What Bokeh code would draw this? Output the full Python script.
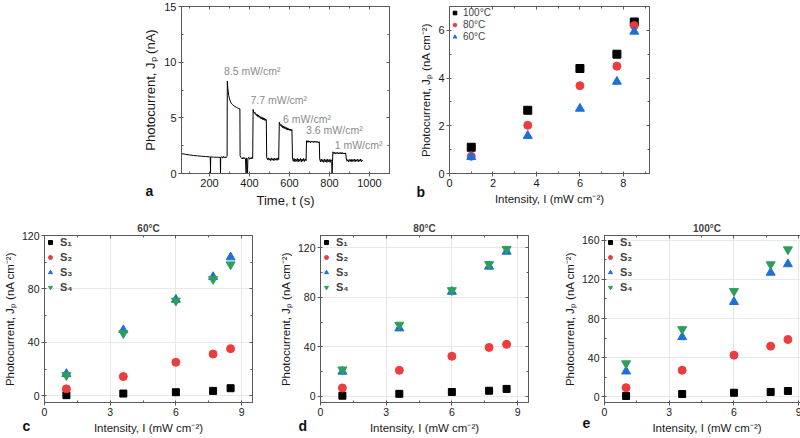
from bokeh.plotting import figure
from bokeh.layouts import row, column, Spacer
from bokeh.models import LinearAxis, SingleIntervalTicker, Range1d, Title
from bokeh.embed import file_html
from bokeh.resources import INLINE
from bokeh.core.properties import value

FONT = "Liberation Sans"
GRAY = "#5a5a5a"
RED = "#EE3B3B"
BLUE = "#1E6FD9"
GREEN = "#2CA05A"

# ---------------- panel a : photocurrent transient ----------------
time_s = [60, 80, 100, 120, 140, 160, 180, 200, 204, 205, 206, 220, 240, 254, 255, 256,
          262, 266, 270, 274, 278, 282, 286, 288,
          289, 292, 296, 300, 306, 314, 324, 334, 344, 352,
          353, 356, 360, 364, 368, 372, 376, 380, 383, 385, 390, 392, 396, 400, 404, 408, 412, 416,
          418, 421, 424, 427, 430, 433, 436, 439, 442, 445, 448, 451, 454, 457, 460, 463, 466, 469,
          472, 475, 478, 481, 484,
          486, 490, 494, 498, 502, 506, 510, 514, 518, 522, 526, 530, 534, 538, 542, 546,
          549, 552, 555, 558, 561, 564, 567, 570, 573, 576, 579, 582, 585, 588, 591, 594, 597, 600,
          603, 606, 609, 612,
          615, 619, 623, 627, 631, 635, 639, 643, 647, 651, 655, 659, 663, 667, 671, 675, 679, 683,
          685, 689, 693, 697, 701, 705, 709, 713, 717, 721, 725, 729, 733, 737, 741, 745, 749,
          751, 755, 759, 763, 767, 771, 775, 779, 783, 787, 791, 795, 799, 803, 807, 811, 813, 815,
          817, 821, 825, 829, 833, 837, 841, 845, 849, 853, 857, 861, 865, 869, 873, 877, 881,
          884, 888, 892, 896, 900, 904, 908, 912, 916, 920, 924, 928, 932, 936, 940, 944, 948, 952,
          956, 960, 964, 967]
current_na = [1.78, 1.72, 1.67, 1.62, 1.58, 1.55, 1.52, 1.50, 1.49, 0.0, 1.49, 1.47, 1.46, 1.45, 0.0, 1.45,
              1.50, 1.38, 1.55, 1.42, 1.50, 1.40, 1.52, 1.55,
              8.30, 7.60, 7.00, 6.70, 6.40, 6.20, 6.05, 5.95, 5.85, 5.80,
              1.60, 1.45, 1.40, 1.30, 1.45, 1.32, 1.42, 1.30, 0.0, 1.40, 0.0, 1.35, 1.45, 1.28, 1.42, 1.30, 1.45, 1.35,
              5.75, 5.50, 5.40, 5.50, 5.30, 5.35, 5.20, 5.30, 5.10, 5.25, 5.05, 5.15, 4.95, 5.10, 4.90, 5.05, 4.85, 5.00,
              4.80, 4.95, 4.75, 4.90, 4.80,
              1.45, 1.25, 1.40, 1.20, 1.35, 1.15, 1.40, 1.20, 1.35, 1.15, 1.38, 1.20, 1.35, 1.18, 1.40, 1.25,
              4.60, 4.45, 4.30, 4.40, 4.20, 4.30, 4.10, 4.25, 4.05, 4.20, 4.00, 4.15, 3.95, 4.10, 3.90, 4.05, 3.90, 4.00,
              3.85, 4.00, 3.85, 3.95,
              1.40, 1.10, 1.35, 1.05, 1.30, 1.10, 1.35, 1.05, 1.30, 1.10, 1.35, 1.05, 1.30, 1.10, 1.35, 1.08, 1.30, 1.15,
              2.95, 2.80, 2.95, 2.80, 2.90, 2.78, 2.92, 2.80, 2.90, 2.78, 2.92, 2.80, 2.90, 2.78, 2.88, 2.75, 2.85,
              1.30, 1.05, 1.30, 1.05, 1.25, 1.00, 1.30, 1.05, 1.25, 1.00, 1.28, 1.05, 1.25, 1.00, 1.25, 1.10, 0.0, 1.10,
              1.95, 1.80, 1.90, 1.75, 1.90, 1.78, 1.90, 1.75, 1.88, 1.76, 1.90, 1.75, 1.88, 1.76, 1.85, 1.75, 1.85,
              1.30, 1.10, 1.25, 1.05, 1.25, 1.08, 1.28, 1.05, 1.25, 1.10, 1.30, 1.05, 1.25, 1.10, 1.28, 1.05, 1.25, 1.10,
              1.30, 1.05, 1.20, 1.15]
ann_text = ["8.5 mW/cm²", "7.7 mW/cm²", "6 mW/cm²", "3.6 mW/cm²", "1 mW/cm²"]
ann_t = [272, 405, 568, 683, 826]
ann_j = [9.2, 6.6, 4.9, 3.9, 2.55]

# ---------------- panel b ----------------
intensity = [1, 3.6, 6, 7.7, 8.5]
b_100 = [1.10, 2.65, 4.40, 5.00, 6.35]
b_80 = [0.72, 2.02, 3.68, 4.50, 6.20]
b_60 = [0.70, 1.58, 2.72, 3.85, 5.95]
b_labels = ["100°C", "80°C", "60°C"]

# ---------------- panels c, d, e ----------------
c_s1 = [0.5, 1.7, 2.7, 3.7, 5.7]
c_s2 = [5.2, 14.4, 25.1, 31.3, 35.3]
c_s3 = [16.4, 49.2, 72.0, 89.0, 103.7]
c_s4 = [15.4, 46.8, 71.1, 87.3, 98.3]

d_s1 = [0.5, 2.0, 3.5, 4.5, 6.0]
d_s2 = [6.8, 21.0, 32.4, 39.5, 42.0]
d_s3 = [20.0, 55.0, 84.6, 104.9, 117.0]
d_s4 = [21.6, 57.8, 85.7, 106.8, 119.0]

e_s1 = [0.7, 2.7, 4.0, 4.8, 5.8]
e_s2 = [9.2, 27.0, 42.5, 51.7, 58.5]
e_s3 = [25.9, 61.0, 97.0, 127.0, 135.7]
e_s4 = [34.0, 69.0, 108.0, 135.4, 150.7]

s_labels = ["S₁", "S₂", "S₃", "S₄"]
temps = ["60°C", "80°C", "100°C"]
panel_letters = ["a", "b", "c", "d", "e"]

YLAB = "Photocurrent, Jₚ (nA cm⁻²)"
XLAB = "Intensity, I (mW cm⁻²)"


def style_axes(p, xint, yint, tick_fs, lab_fs):
    for ax, iv in ((p.xaxis[0], xint), (p.yaxis[0], yint)):
        ax.ticker = SingleIntervalTicker(interval=iv, num_minor_ticks=2)
        ax.axis_line_color = GRAY
        ax.major_tick_line_color = GRAY
        ax.minor_tick_line_color = GRAY
        ax.major_tick_out = 3
        ax.major_tick_in = 0
        ax.minor_tick_out = 0
        ax.minor_tick_in = 2
        ax.major_label_text_font = FONT
        ax.major_label_text_font_size = tick_fs
        ax.major_label_text_color = "#1a1a1a"
        ax.major_label_standoff = 2
        ax.axis_label_text_font = FONT
        ax.axis_label_text_font_size = lab_fs
        ax.axis_label_text_font_style = "normal"
        ax.axis_label_text_color = "#1a1a1a"
        ax.axis_label_standoff = 3
    for loc, iv in (("above", xint), ("right", yint)):
        ax = LinearAxis(ticker=SingleIntervalTicker(interval=iv, num_minor_ticks=2),
                        major_label_text_font_size="1px", major_label_text_color=None,
                        major_label_standoff=0,
                        major_tick_in=3, major_tick_out=0, minor_tick_in=2, minor_tick_out=0,
                        axis_line_color=GRAY, major_tick_line_color=GRAY,
                        minor_tick_line_color=GRAY)
        p.add_layout(ax, loc)
    p.outline_line_color = GRAY
    p.background_fill_color = "white"
    p.border_fill_color = "white"


def letter(p, txt, dx, standoff):
    t = Title(text=txt, align="left", vertical_align="top", offset=dx, standoff=standoff,
              text_font=FONT, text_font_size="14px", text_font_style="bold",
              text_color="#111111")
    p.add_layout(t, "below")


# ---- figure a ----
fa = figure(frame_width=208, frame_height=167, min_border_left=41, min_border_right=28,
            min_border_top=6, min_border_bottom=46, x_range=Range1d(60, 1100),
            y_range=Range1d(0, 15), output_backend="svg", toolbar_location=None)
fa.line(time_s, current_na, line_color="black", line_width=1)
fa.text(x=ann_t, y=ann_j, text=ann_text, text_font=value(FONT), text_font_size="10.5px",
        text_color="#8a8a8a", text_baseline="middle", text_align="left")
fa.xaxis.axis_label = "Time, t (s)"
fa.yaxis.axis_label = "Photocurrent, Jₚ (nA)"
style_axes(fa, 200, 5, "11px", "13px")
fa.grid.visible = False
letter(fa, panel_letters[0], -36, -55)

# ---- figure b ----
fb = figure(frame_width=200, frame_height=167, min_border_left=31, min_border_right=10,
            min_border_top=6, min_border_bottom=46, x_range=Range1d(0, 9.2),
            y_range=Range1d(0, 7), output_backend="svg", toolbar_location=None)
fb.scatter(intensity, b_100, marker="square", size=8, color="black", legend_label=b_labels[0])
fb.scatter(intensity, b_80, marker="circle", size=8, color=RED, legend_label=b_labels[1])
fb.scatter(intensity, b_60, marker="triangle", size=9, color=BLUE, legend_label=b_labels[2])
fb.xaxis.axis_label = XLAB
fb.yaxis.axis_label = YLAB
style_axes(fb, 2, 2, "11px", "11.5px")
fb.grid.visible = False
lg = fb.legend[0]
lg.location = "top_left"
lg.margin = 1
lg.padding = 2
lg.spacing = 1
lg.glyph_width = 9
lg.glyph_height = 9
lg.label_height = 9
lg.label_standoff = 4
lg.label_text_font = FONT
lg.label_text_font_size = "10px"
lg.border_line_color = None
lg.background_fill_alpha = 0
letter(fb, panel_letters[1], -33, -47)


# ---- figures c, d, e ----
def temp_fig(title, s1, s2, s3, s4, ymin, ymax, lb, rb, fw, let, yint=40):
    p = figure(frame_width=fw, frame_height=167, min_border_left=lb, min_border_right=rb,
               min_border_top=16, min_border_bottom=34, x_range=Range1d(0, 9.5),
               y_range=Range1d(ymin, ymax), output_backend="svg", toolbar_location=None,
               title=title)
    p.title.align = "center"
    p.title.text_font = FONT
    p.title.text_font_size = "10px"
    p.title.text_font_style = "bold"
    p.title.standoff = 3
    p.scatter(intensity, s1, marker="square", size=7, color="black", legend_label=s_labels[0])
    p.scatter(intensity, s2, marker="circle", size=8, color=RED, legend_label=s_labels[1])
    p.scatter(intensity, s3, marker="triangle", size=9, color=BLUE, legend_label=s_labels[2])
    p.scatter(intensity, s4, marker="inverted_triangle", size=9, color=GREEN, legend_label=s_labels[3])
    p.xaxis.axis_label = XLAB
    p.yaxis.axis_label = YLAB
    style_axes(p, 3, yint, "10.5px", "11.5px")
    p.xgrid.ticker = SingleIntervalTicker(interval=3)
    p.ygrid.ticker = SingleIntervalTicker(interval=yint)
    p.grid.grid_line_color = "#e8e8e8"
    p.grid.grid_line_width = 1
    l = p.legend[0]
    l.location = "top_left"
    l.margin = 1
    l.padding = 2
    l.spacing = 3
    l.glyph_width = 10
    l.glyph_height = 10
    l.label_height = 10
    l.label_standoff = 5
    l.label_text_font = FONT
    l.label_text_font_size = "11px"
    l.label_text_font_style = "bold"
    l.border_line_color = None
    l.background_fill_alpha = 0
    letter(p, let, -22, -38)
    return p


fc = temp_fig(temps[0], c_s1, c_s2, c_s3, c_s4, -5, 120, 40, 24, 208, panel_letters[2])
fd = temp_fig(temps[1], d_s1, d_s2, d_s3, d_s4, -5, 130, 38, 32, 208, panel_letters[3])
fe = temp_fig(temps[2], e_s1, e_s2, e_s3, e_s4, -6, 165, 40, 3, 205, panel_letters[4])

top = row(Spacer(width=140, height=219), fa, fb)
bottom = row(fc, fd, fe)
layout = column(top, bottom)

open("out.html", "w").write(file_html(layout, INLINE))
